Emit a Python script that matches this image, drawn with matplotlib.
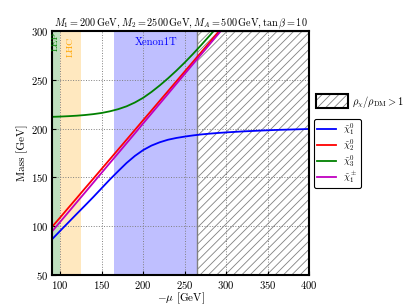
import matplotlib
matplotlib.use('Agg')
import matplotlib.pyplot as plt
from matplotlib.patches import Patch
from matplotlib.lines import Line2D

# masses (GeV)
mu_lo = [90, 100, 110, 120, 130, 140, 150, 160, 170, 180, 190, 200, 210, 220, 230,
         240, 250, 260, 270, 280, 290, 300, 320, 340, 360, 380, 400]
m_chi1 = [86.5, 95.3, 104.0, 112.7, 121.3, 130.0, 139.0, 148.0, 156.5, 164.8, 172.0,
          178.0, 182.6, 186.0, 188.6, 190.4, 191.8, 193.0, 194.0, 194.8, 195.5, 196.1,
          197.1, 197.9, 198.6, 199.1, 199.6]

mu_hi = [90, 100, 110, 120, 130, 140, 150, 160, 170, 180, 190, 200, 210, 220, 230,
         240, 250, 260, 270, 280, 290, 300]
m_chi2 = [99.2, 109.0, 119.0, 128.9, 138.9, 148.8, 158.8, 168.7, 178.7, 188.6, 198.6,
          208.6, 218.5, 228.5, 238.4, 248.4, 258.4, 268.3, 278.3, 288.3, 298.3, 308.3]
m_chi3 = [212.0, 212.3, 212.7, 213.2, 213.9, 214.8, 216.0, 217.7, 219.9, 222.8, 226.7,
          231.5, 237.5, 244.2, 251.5, 259.3, 267.6, 276.4, 285.6, 295.1, 304.8, 314.6]
m_chipm = [94.5, 104.5, 114.5, 124.6, 134.6, 144.7, 154.8, 164.9, 174.9, 185.0, 195.1,
           205.3, 215.4, 225.5, 235.6, 245.8, 255.9, 266.0, 276.1, 286.2, 296.3, 306.5]

# excluded / probed ranges in -mu
lep_range = (90, 100)
lhc_range = (100, 125)
xenon_range = (165, 265)
relic_range = (265, 400)

plt.rcParams['font.family'] = 'serif'
plt.rcParams['font.serif'] = ['cmr10']
plt.rcParams['mathtext.fontset'] = 'cm'
plt.rcParams['axes.formatter.use_mathtext'] = True
plt.rcParams['hatch.linewidth'] = 0.6
plt.rcParams['font.size'] = 7.5

fig = plt.figure(figsize=(4.15, 3.06), dpi=100)
ax = fig.add_axes([0.125, 0.101, 0.62, 0.798])

ax.axvspan(*lep_range, color='green', alpha=0.25, lw=0)
ax.axvspan(*lhc_range, color='orange', alpha=0.25, lw=0)
ax.axvspan(*xenon_range, color='blue', alpha=0.25, lw=0)
ax.axvspan(*relic_range, facecolor='none', edgecolor='gray', hatch='////', lw=1)

ax.plot(mu_lo, m_chi1, 'b', lw=1.3)
ax.plot(mu_hi, m_chi2, 'r', lw=1.3)
ax.plot(mu_hi, m_chi3, 'g', lw=1.3)
ax.plot(mu_hi, m_chipm, 'm', lw=1.3)

ax.text(94.6, 298.5, 'LEP', color='green', rotation=90, ha='center', va='top', fontsize=7)
ax.text(113, 294, 'LHC', color='orange', rotation=90, ha='center', va='top', fontsize=7)
ax.text(216, 288, 'Xenon1T', color='blue', ha='center', va='center', fontsize=7.7)

ax.set_xlim(90, 400)
ax.set_ylim(50, 300)
ax.set_xticks([100, 150, 200, 250, 300, 350, 400])
ax.set_yticks([50, 100, 150, 200, 250, 300])
ax.grid(True, ls=':', color='gray', lw=0.7)
ax.tick_params(direction='in', length=3, labelsize=7.7, pad=2.5)
for s in ax.spines.values():
    s.set_linewidth(1.5)

ax.set_xlabel(r'$-\mu$ [GeV]', fontsize=8, labelpad=0)
ax.set_ylabel('Mass [GeV]', fontsize=8, labelpad=2)
ax.set_title(r'$M_1 = 200\,\mathrm{GeV}, M_2 = 2500\,\mathrm{GeV}, M_A = 500\,\mathrm{GeV}, \tan\beta = 10$',
             fontsize=7.35, pad=3)

hatch_handle = (Patch(facecolor='white', edgecolor='gray', hatch='////', lw=0),
                Patch(facecolor='none', edgecolor='black', lw=1.5))
leg1 = ax.legend([hatch_handle], [r'$\rho_\chi/\rho_{\rm DM} > 1$'], loc='center left',
                 bbox_to_anchor=(1.01, 0.71), frameon=False, fontsize=7.5,
                 handlelength=3.1, handleheight=1.7, handletextpad=0.4, borderaxespad=0)
ax.add_artist(leg1)

handles = [Line2D([], [], color=c, lw=1.3) for c in ['b', 'r', 'g', 'm']]
labels = [r'$\tilde{\chi}_1^0$', r'$\tilde{\chi}_2^0$', r'$\tilde{\chi}_3^0$', r'$\tilde{\chi}_1^\pm$']
leg2 = ax.legend(handles, labels, loc='upper left', bbox_to_anchor=(1.02, 0.64),
                 borderaxespad=0, fontsize=7.0, handlelength=1.9, labelspacing=0.0,
                 borderpad=0.3, fancybox=True, edgecolor='black', framealpha=1)
leg2.get_frame().set_linewidth(0.8)

fig.savefig('out.png', dpi=100)
